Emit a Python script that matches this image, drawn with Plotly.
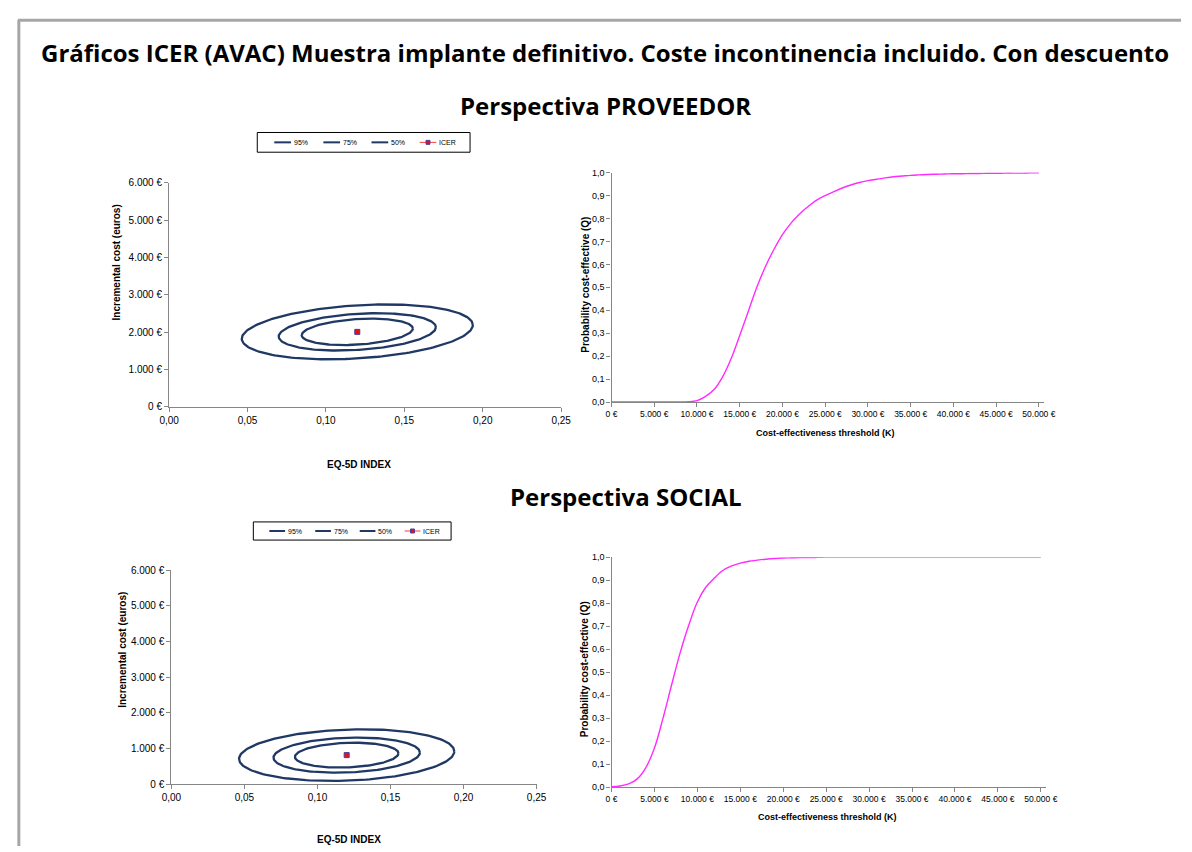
import numpy as np
import plotly.graph_objects as go

W, H = 1192, 852

# ---- data -------------------------------------------------------------
levels = [0.95, 0.75, 0.50]
level_labels = ["95%", "75%", "50%"]

# incremental effect (EQ-5D) / incremental cost: mean, sd, correlation
prov_icer = (0.120, 2010)
prov_sd = (0.0301, 300)
prov_rho = 0.25

soc_icer = (0.120, 815)
soc_sd = (0.0301, 296)
soc_rho = 0.146

# willingness-to-pay thresholds (euros)
wtp = list(range(0, 50001, 1000))

ceac_prov = [0.0, 0.0, 0.0, 0.0, 0.0, 0.0, 0.0, 0.0, 0.0, 0.001,
             0.006, 0.025, 0.055, 0.11, 0.19, 0.29, 0.395, 0.50, 0.59, 0.665,
             0.73, 0.78, 0.82, 0.852, 0.88, 0.90, 0.917, 0.933, 0.946, 0.957,
             0.965, 0.971, 0.977, 0.982, 0.985, 0.988, 0.990, 0.992, 0.993, 0.994,
             0.995, 0.995, 0.996, 0.996, 0.997, 0.997, 0.998, 0.998, 0.998, 0.999,
             0.999]

ceac_soc = [0.002, 0.005, 0.014, 0.036, 0.085, 0.17, 0.30, 0.445, 0.585, 0.705,
            0.805, 0.87, 0.91, 0.943, 0.962, 0.974, 0.982, 0.987, 0.991, 0.994,
            0.996, 0.997, 0.998, 0.998, 0.999, 1.0, 1.0, 1.0, 1.0, 1.0,
            1.0, 1.0, 1.0, 1.0, 1.0, 1.0, 1.0, 1.0, 1.0, 1.0,
            1.0, 1.0, 1.0, 1.0, 1.0, 1.0, 1.0, 1.0, 1.0, 1.0,
            1.0]

# tick labels
eq5d_ticks = [0, 0.05, 0.10, 0.15, 0.20, 0.25]
eq5d_labels = ["0,00", "0,05", "0,10", "0,15", "0,20", "0,25"]
cost_ticks = [0, 1000, 2000, 3000, 4000, 5000, 6000]
cost_labels = ["0 €", "1.000 €", "2.000 €", "3.000 €", "4.000 €", "5.000 €", "6.000 €"]
wtp_ticks = list(range(0, 50001, 5000))
wtp_labels = ["0 €", "5.000 €", "10.000 €", "15.000 €", "20.000 €", "25.000 €",
              "30.000 €", "35.000 €", "40.000 €", "45.000 €", "50.000 €"]
prob_ticks = [i / 10 for i in range(11)]
prob_labels = ["0,0", "0,1", "0,2", "0,3", "0,4", "0,5", "0,6", "0,7", "0,8", "0,9", "1,0"]

# ---- styling ----------------------------------------------------------
NAVY = "#1f3864"
MAGENTA = "#ff2bff"
AXIS = "#868686"
TXT = "#000000"
FONT = "Liberation Sans, Arial, sans-serif"
TITLE_FONT = "Open Sans, Noto Sans, sans-serif"


def fx(p):
    return p / W


def fy(p):
    return 1 - p / H


def conf_ellipse(mean, sd, rho, level, n=200):
    """Bivariate-normal confidence ellipse for a given coverage level."""
    q = -2.0 * np.log(1.0 - level)  # chi-square quantile, 2 d.f.
    cov = np.array([[sd[0] ** 2, rho * sd[0] * sd[1]],
                    [rho * sd[0] * sd[1], sd[1] ** 2]])
    L = np.linalg.cholesky(cov)
    t = np.linspace(0, 2 * np.pi, n)
    circ = np.vstack([np.cos(t), np.sin(t)]) * np.sqrt(q)
    pts = L @ circ
    return mean[0] + pts[0], mean[1] + pts[1]


fig = go.Figure()

# ICER planes
for (mean, sd, rho, xa, ya) in [(prov_icer, prov_sd, prov_rho, "x", "y"),
                                (soc_icer, soc_sd, soc_rho, "x3", "y3")]:
    for lev, lab in zip(levels, level_labels):
        ex, ey = conf_ellipse(mean, sd, rho, lev)
        fig.add_trace(go.Scatter(x=ex, y=ey, mode="lines", name=lab,
                                 line=dict(color=NAVY, width=2.3),
                                 xaxis=xa, yaxis=ya, showlegend=False,
                                 hoverinfo="skip"))
    fig.add_trace(go.Scatter(x=[mean[0]], y=[mean[1]], mode="markers", name="ICER",
                             marker=dict(symbol="square", size=5, color="#e8101a",
                                         line=dict(color="#4b3b9a", width=1)),
                             xaxis=xa, yaxis=ya, showlegend=False))

# acceptability curves
fig.add_trace(go.Scatter(x=wtp, y=ceac_prov, mode="lines", line=dict(color=MAGENTA, width=1.4),
                         line_shape="spline", xaxis="x2", yaxis="y2", showlegend=False))
fig.add_trace(go.Scatter(x=wtp, y=ceac_soc, mode="lines", line=dict(color=MAGENTA, width=1.4),
                         line_shape="spline", xaxis="x4", yaxis="y4", showlegend=False))

common = dict(showgrid=False, zeroline=False, showline=True, linecolor=AXIS, linewidth=1.3,
              ticks="outside", ticklen=4, tickcolor=AXIS, tickwidth=1,
              tickfont=dict(family=FONT, size=10, color=TXT))

plane_x = dict(common, range=[0, 0.25], tickvals=eq5d_ticks, ticktext=eq5d_labels)
plane_y = dict(common, range=[0, 6000], tickvals=cost_ticks, ticktext=cost_labels)
ceac_x = dict(common, range=[0, 50650], tickvals=wtp_ticks, ticktext=wtp_labels,
              tickfont=dict(family=FONT, size=8.5, color=TXT))
ceac_y = dict(common, range=[0, 1.0], tickvals=prob_ticks, ticktext=prob_labels,
              tickfont=dict(family=FONT, size=9, color=TXT))

fig.update_layout(
    width=W, height=H, margin=dict(l=0, r=0, t=0, b=0),
    paper_bgcolor="white", plot_bgcolor="white",
    xaxis=dict(plane_x, domain=[fx(162), fx(561)], anchor="y"),
    yaxis=dict(plane_y, domain=[fy(406.7), fy(179.3)], anchor="x"),
    xaxis2=dict(ceac_x, domain=[fx(612.3), fx(1053)], anchor="y2"),
    yaxis2=dict(ceac_y, domain=[fy(401.7), fy(169)], anchor="x2"),
    xaxis3=dict(plane_x, domain=[fx(164.3), fx(536)], anchor="y3"),
    yaxis3=dict(plane_y, domain=[fy(789.3), fy(572.3)], anchor="x3"),
    xaxis4=dict(ceac_x, domain=[fx(612.3), fx(1055)], anchor="y4"),
    yaxis4=dict(ceac_y, domain=[fy(792.3), fy(559)], anchor="x4"),
)

ann = []


def text(x, y, s, size, bold=True, angle=0, family=FONT):
    ann.append(dict(x=fx(x), y=fy(y), xref="paper", yref="paper", text=f"<b>{s}</b>" if bold else s,
                    showarrow=False, textangle=angle, xanchor="center", yanchor="middle",
                    font=dict(family=family, size=size, color=TXT)))


text(606, 47, "Gráficos ICER (AVAC) Muestra implante definitivo. Coste incontinencia incluido. Con descuento",
     24, family=TITLE_FONT)
text(606, 101, "Perspectiva PROVEEDOR", 24, family=TITLE_FONT)
text(627, 497, "Perspectiva SOCIAL", 24, family=TITLE_FONT)

# axis titles
text(108, 260, "Incremental cost (euros)", 10, angle=-90)
text(115, 653, "Incremental cost (euros)", 10, angle=-90)
text(355, 465, "EQ-5D INDEX", 10)
text(345, 845, "EQ-5D INDEX", 10)
text(585, 283, "Probability cost-effective (Q)", 10, angle=-90)
text(585, 673, "Probability cost-effective (Q)", 10, angle=-90)
text(830, 433, "Cost-effectiveness threshold (K)", 9)
text(832, 823, "Cost-effectiveness threshold (K)", 9)

shapes = []

# page frame
shapes.append(dict(type="line", xref="paper", yref="paper", x0=fx(8), x1=1, y0=fy(14.5), y1=fy(14.5),
                   line=dict(color="#a6a6a6", width=3)))
shapes.append(dict(type="line", xref="paper", yref="paper", x0=fx(9), x1=fx(9), y0=fy(14.5), y1=0,
                   line=dict(color="#a6a6a6", width=3)))


def legend_box(x0, x1, y0, y1, starts, seg):
    yc = (y0 + y1) / 2
    shapes.append(dict(type="rect", xref="paper", yref="paper", x0=fx(x0), x1=fx(x1), y0=fy(y1), y1=fy(y0),
                       line=dict(color="#000000", width=1), fillcolor="white"))
    labels = level_labels + ["ICER"]
    for i, (s, lab) in enumerate(zip(starts, labels)):
        color = NAVY if i < 3 else "#ff3b3b"
        shapes.append(dict(type="line", xref="paper", yref="paper", x0=fx(s), x1=fx(s + seg), y0=fy(yc), y1=fy(yc),
                           line=dict(color=color, width=2 if i < 3 else 1)))
        if i == 3:
            m = s + seg / 2
            shapes.append(dict(type="rect", xref="paper", yref="paper", x0=fx(m - 2), x1=fx(m + 2),
                               y0=fy(yc + 2), y1=fy(yc - 2),
                               line=dict(color="#4b3b9a", width=1), fillcolor="#e8101a"))
        ann.append(dict(x=fx(s + seg + 1), y=fy(yc), xref="paper", yref="paper", text=lab, showarrow=False,
                        xanchor="left", yanchor="middle", font=dict(family=FONT, size=7, color=TXT)))


legend_box(251.7, 468.3, 128.3, 148.3, [269, 319, 368, 417], 17)
legend_box(247.7, 449, 523.3, 541.7, [264, 310.7, 356, 401.7], 16)

fig.update_layout(annotations=ann, shapes=shapes)
fig.write_html("out.html")
